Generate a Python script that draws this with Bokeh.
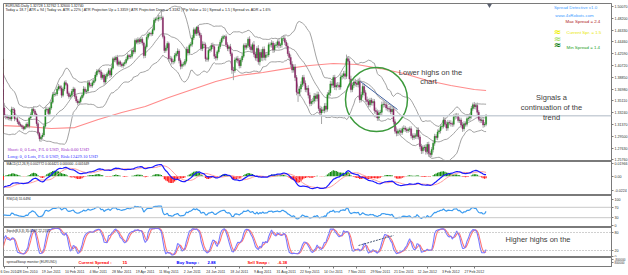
import numpy as np
import pandas as pd
from bokeh.plotting import figure
from bokeh.layouts import column
from bokeh.models import Range1d, FixedTicker, Label, Span
from bokeh.embed import file_html
from bokeh.resources import INLINE

# ---------------- DATA (EURUSD daily) ----------------
WARMUP = 30  # bars before 6 Dec 2010 (Oct 25 - Dec 3 2010), off-screen history
CLOSE = [
    1.3930, 1.3820, 1.3780, 1.3920, 1.3940,
    1.3930, 1.4030, 1.4150, 1.4170, 1.4030,
    1.3850, 1.3780, 1.3750, 1.3660, 1.3690,
    1.3600, 1.3550, 1.3530, 1.3630, 1.3670,
    1.3620, 1.3390, 1.3340, 1.3370, 1.3240,
    1.3140, 1.3000, 1.3080, 1.3240, 1.3400,
    # visible: 6 Dec 2010 ...
    1.3270, 1.3260, 1.3240, 1.3250, 1.3225,
    1.3380, 1.3370, 1.3230, 1.3230, 1.3180,
    1.3140, 1.3120, 1.3100, 1.3070, 1.3100,
    1.3140, 1.3110, 1.3240, 1.3290, 1.3380,
    1.3350, 1.3300, 1.3150, 1.3000, 1.2910,
    1.2940, 1.2970, 1.3110, 1.3370, 1.3380,
    1.3310, 1.3400, 1.3490, 1.3610, 1.3620,
    1.3620, 1.3700, 1.3740, 1.3710, 1.3600,
    1.3700, 1.3800, 1.3770, 1.3630, 1.3580,
    1.3600, 1.3660, 1.3700, 1.3580, 1.3510,
    1.3480, 1.3500, 1.3560, 1.3600, 1.3700,
    1.3660, 1.3670, 1.3800, 1.3760, 1.3750,
    1.3800, 1.3830, 1.3920, 1.3980, 1.3990,
    1.3970, 1.3880, 1.3920, 1.3810, 1.3900,
    1.3940, 1.3990, 1.3920, 1.4030, 1.4180,
    1.4160, 1.4200, 1.4090, 1.4130, 1.4090,
    1.4070, 1.4100, 1.4120, 1.4170, 1.4230,
    1.4210, 1.4220, 1.4310, 1.4290, 1.4470,
    1.4440, 1.4480, 1.4450, 1.4490, 1.4430,
    1.4230, 1.4370, 1.4520, 1.4570, 1.4580,
    1.4570, 1.4640, 1.4790, 1.4810, 1.4810,
    1.4830, 1.4830, 1.4830, 1.4530, 1.4310,
    1.4350, 1.4420, 1.4180, 1.4180, 1.4130,
    1.4140, 1.4230, 1.4260, 1.4300, 1.4150,
    1.4060, 1.4090, 1.4090, 1.4140, 1.4330,
    1.4270, 1.4390, 1.4410, 1.4510, 1.4640,
    1.4580, 1.4680, 1.4590, 1.4550, 1.4340,
    1.4410, 1.4400, 1.4180, 1.4170, 1.4310,
    1.4330, 1.4390, 1.4370, 1.4220, 1.4190,
    1.4290, 1.4370, 1.4440, 1.4500, 1.4530,
    1.4530, 1.4400, 1.4340, 1.4370, 1.4260,
    1.4000, 1.3990, 1.4160, 1.4180, 1.4150,
    1.4070, 1.4160, 1.4220, 1.4390, 1.4360,
    1.4390, 1.4490, 1.4370, 1.4320, 1.4400,
    1.4250, 1.4190, 1.4340, 1.4130, 1.4280,
    1.4200, 1.4330, 1.4200, 1.4240, 1.4240,
    1.4400, 1.4400, 1.4430, 1.4320, 1.4390,
    1.4400, 1.4450, 1.4390, 1.4400, 1.4500,
    1.4500, 1.4440, 1.4380, 1.4260, 1.4200,
    1.4090, 1.4000, 1.4050, 1.3880, 1.3650,
    1.3630, 1.3700, 1.3770, 1.3880, 1.3790,
    1.3690, 1.3710, 1.3600, 1.3470, 1.3500,
    1.3510, 1.3590, 1.3550, 1.3610, 1.3390,
    1.3320, 1.3370, 1.3360, 1.3430, 1.3380,
    1.3610, 1.3640, 1.3780, 1.3760, 1.3880,
    1.3730, 1.3760, 1.3760, 1.3730, 1.3890,
    1.3910, 1.3940, 1.3900, 1.4180, 1.4140,
    1.3860, 1.3690, 1.3760, 1.3810, 1.3790,
    1.3770, 1.3820, 1.3530, 1.3610, 1.3740,
    1.3640, 1.3530, 1.3500, 1.3450, 1.3520,
    1.3480, 1.3500, 1.3360, 1.3340, 1.3240,
    1.3320, 1.3330, 1.3450, 1.3460, 1.3450,
    1.3400, 1.3390, 1.3380, 1.3340, 1.3380,
    1.3180, 1.3030, 1.3000, 1.3030, 1.3040,
    1.3010, 1.3070, 1.3080, 1.3060, 1.3040,
    1.3060, 1.3070, 1.2960, 1.2930, 1.2960,
    1.2950, 1.3050, 1.2940, 1.2790, 1.2720,
    1.2770, 1.2780, 1.2710, 1.2820, 1.2680,
    1.2660, 1.2740, 1.2840, 1.2950, 1.2930,
    1.3020, 1.3040, 1.3100, 1.3110, 1.3210,
    1.3140, 1.3080, 1.3170, 1.3160, 1.3150,
    1.3140, 1.3260, 1.3270, 1.3280, 1.3200,
    1.3210, 1.3130, 1.3070, 1.3150, 1.3140,
    1.3230, 1.3240, 1.3270, 1.3390, 1.3450,
    1.3420, 1.3440, 1.3330, 1.3220, 1.3200,
    1.3210, 1.3130, 1.3140, 1.3274,
]
UP_WICK_PIPS = [
    30, 45, 25, 40, 20, 35, 30, 50, 25, 45, 20, 35, 30, 40, 25,
    30, 25, 45, 20, 35, 25, 40, 30, 20, 35, 45, 30, 55, 25, 40,
    80, 30, 35, 25, 30, 40, 35, 30, 25, 30, 25, 30, 20, 25, 15,
    30, 35, 25, 40, 20, 45, 30, 25, 30, 20, 20, 35, 40, 45, 40,
    30, 25, 45, 40, 35, 30, 35, 40, 25, 45, 35, 30, 40, 25, 30,
    30, 40, 35, 25, 30, 30, 35, 25, 40, 45, 35, 25, 40, 30, 35,
    40, 30, 45, 35, 25, 30, 35, 40, 25, 35, 30, 40, 35, 45, 30,
    35, 30, 40, 35, 25, 30, 25, 35, 40, 35, 25, 35, 30, 40, 30,
    30, 40, 25, 35, 30, 20, 35, 40, 30, 25, 30, 35, 40, 25, 30,
    50, 40, 110, 30, 35, 40, 35, 30, 45, 35, 30, 40, 35, 45, 30,
    35, 30, 40, 35, 40, 40, 30, 35, 45, 35, 30, 15, 35, 40, 35,
    45, 40, 35, 30, 40, 35, 40, 45, 30, 35, 30, 35, 40, 35, 30,
    25, 35, 40, 30, 45, 30, 50, 40, 35, 45, 40, 35, 45, 30, 40,
    35, 30, 45, 40, 35, 60, 40, 35, 55, 45, 50, 40, 45, 35, 40,
    35, 40, 45, 30, 35, 40, 35, 45, 30, 35, 50, 40, 35, 45, 40,
    45, 50, 40, 45, 40, 40, 45, 50, 40, 45, 45, 40, 50, 45, 40,
    50, 45, 40, 50, 45, 45, 50, 40, 45, 50, 40, 45, 50, 45, 40,
    45, 40, 50, 45, 40, 40, 45, 50, 65, 40, 45, 50, 40, 45, 50,
    40, 45, 60, 45, 40, 45, 40, 50, 45, 40, 40, 45, 40, 45, 35,
    45, 40, 50, 45, 40, 40, 45, 40, 50, 45, 45, 40, 45, 40, 35,
    40, 35, 45, 35, 30, 30, 35, 40, 35, 40, 35, 45, 40, 35, 40,
    40, 35, 45, 40, 45, 35, 40, 45, 40, 35, 40, 35, 45, 40, 45,
    40, 45, 40, 35, 45, 35, 40, 45, 40, 35, 40, 35, 45, 40, 35,
    35, 40, 45, 40, 35, 45, 40, 45, 35, 40, 35, 40, 35, 30,
]
DN_WICK_PIPS = [
    25, 30, 40, 20, 35, 30, 45, 20, 35, 50, 40, 25, 35, 30, 20,
    35, 40, 25, 30, 45, 30, 20, 45, 25, 40, 35, 55, 25, 40, 30,
    30, 40, 25, 35, 30, 35, 30, 40, 25, 35, 30, 25, 35, 30, 20,
    25, 30, 35, 30, 25, 30, 35, 40, 35, 40, 50, 35, 30, 35, 30,
    40, 35, 30, 25, 35, 35, 30, 25, 35, 40, 30, 35, 25, 40, 35,
    35, 30, 40, 35, 30, 40, 35, 30, 25, 35, 35, 40, 30, 35, 30,
    30, 35, 25, 30, 35, 40, 35, 30, 45, 35, 40, 35, 45, 30, 25,
    35, 40, 30, 35, 40, 30, 35, 40, 30, 25, 35, 30, 35, 40, 30,
    30, 35, 40, 35, 40, 45, 40, 30, 35, 30, 35, 30, 25, 40, 35,
    40, 45, 35, 30, 40, 35, 40, 45, 35, 40, 40, 35, 30, 40, 45,
    50, 40, 35, 30, 35, 40, 35, 30, 40, 35, 35, 40, 45, 40, 35,
    40, 35, 45, 40, 35, 35, 40, 35, 45, 40, 35, 30, 35, 30, 35,
    40, 35, 40, 45, 40, 60, 150, 35, 40, 45, 45, 40, 35, 30, 40,
    35, 40, 45, 35, 40, 45, 40, 50, 45, 60, 55, 60, 45, 50, 40,
    35, 40, 45, 50, 40, 40, 45, 50, 40, 45, 40, 45, 50, 40, 45,
    50, 45, 40, 55, 50, 135, 45, 50, 40, 45, 40, 45, 50, 45, 40,
    45, 40, 50, 45, 40, 50, 175, 40, 45, 50, 40, 45, 50, 40, 45,
    45, 50, 40, 45, 40, 40, 45, 50, 40, 45, 50, 45, 40, 45, 50,
    40, 45, 50, 40, 45, 45, 40, 50, 45, 40, 40, 45, 50, 40, 45,
    45, 40, 50, 45, 40, 40, 45, 50, 40, 45, 45, 40, 50, 45, 40,
    40, 35, 45, 40, 35, 35, 40, 45, 40, 35, 40, 45, 40, 45, 50,
    45, 40, 50, 45, 55, 50, 40, 45, 40, 35, 40, 35, 45, 40, 35,
    40, 45, 40, 35, 45, 40, 35, 45, 40, 35, 40, 45, 50, 40, 35,
    35, 40, 45, 40, 35, 40, 45, 40, 35, 40, 40, 45, 35, 30,
]
# long moving average (red line), sampled at bar indices
MA_BARS = [0, 16, 32, 48, 64, 80, 96, 112, 128, 144, 160, 176, 192, 208,
           224, 240, 256, 272, 288, 304, 320, 328]
MA_VALUES = [1.3121, 1.3105, 1.3074, 1.3089, 1.3216, 1.3327, 1.3422, 1.3565,
             1.3692, 1.3818, 1.3914, 1.3961, 1.4024, 1.4072, 1.4104, 1.4088,
             1.4024, 1.3945, 1.3834, 1.3755, 1.3692, 1.3676]
TICK_BARS = [0, 16, 32, 48, 64, 80, 96, 112, 128, 144, 160, 176, 192, 208,
             224, 240, 256, 272, 288, 304, 320]
TICK_LABELS = ["6 Dec 2010", "28 Dec 2010", "19 Jan 2011", "10 Feb 2011", "4 Mar 2011",
               "28 Mar 2011", "19 Apr 2011", "11 May 2011", "2 Jun 2011", "24 Jun 2011",
               "18 Jul 2011", "9 Aug 2011", "31 Aug 2011", "22 Sep 2011", "14 Oct 2011",
               "7 Nov 2011", "29 Nov 2011", "21 Dec 2011", "12 Jan 2012", "3 Feb 2012",
               "27 Feb 2012"]
PRICE_TICKS = [1.50070, 1.48200, 1.46330, 1.44460, 1.42590, 1.40720, 1.38850,
               1.36980, 1.35110, 1.33240, 1.31370, 1.29500, 1.27630, 1.25760]
LAST_PRICE = 1.32740
# drawn objects
TREND_BARS = [242.5, 267.7]
TREND_PRICES = [1.3818, 1.3375]
CIRCLE = dict(bar=253.4, price=1.3533, w_bars=42.2, h_price=0.1014)
STOCH_LINE_BARS = [241.2, 265.0]
STOCH_LINE_VALUES = [36.7, 70.0]

# ---------------- indicators ----------------
n = min(len(CLOSE), len(UP_WICK_PIPS), len(DN_WICK_PIPS))
c = np.array(CLOSE[:n])
o = np.concatenate([[c[0]], c[:-1]])
hi = np.maximum(o, c) + np.array(UP_WICK_PIPS[:n]) / 10000.0
lo = np.minimum(o, c) - np.array(DN_WICK_PIPS[:n]) / 10000.0
bars = np.arange(n) - WARMUP

s = pd.Series(c)
bb_mid = s.rolling(20).mean()
bb_sd = s.rolling(20).std(ddof=0)
bb_up = bb_mid + 2 * bb_sd
bb_dn = bb_mid - 2 * bb_sd

ema12 = s.ewm(span=12, adjust=False).mean()
ema26 = s.ewm(span=26, adjust=False).mean()
macd = ema12 - ema26
sig = macd.rolling(9).mean()
hist = (macd - sig).fillna(0)

d = s.diff().fillna(0)
ag = d.clip(lower=0).ewm(alpha=1 / 14, adjust=False).mean()
al = (-d.clip(upper=0)).ewm(alpha=1 / 14, adjust=False).mean()
rsi = 100 - 100 / (1 + ag / al.replace(0, np.nan))

H = pd.Series(hi); L = pd.Series(lo)
ll8 = L.rolling(8).min(); hh8 = H.rolling(8).max()
stk = (s - ll8).rolling(3).sum() / (hh8 - ll8).rolling(3).sum() * 100
std_ = stk.rolling(3).mean()

# ---------------- layout helpers ----------------
FW = 608
XR0 = -0.5
BPX = 1.469
XR1 = XR0 + FW / BPX
xr = Range1d(XR0, XR1)


def px2x(px):
    return XR0 + (px - 3) / BPX


def make_fig(pane, top_border=0, bottom_axis=False):
    top, h, y0, y1 = pane
    p = figure(frame_width=FW, frame_height=h, x_range=xr, y_range=Range1d(y0, y1),
               output_backend="svg", toolbar_location=None,
               x_axis_location="below" if bottom_axis else None,
               y_axis_location="right",
               min_border_left=3, min_border_right=17, min_border_top=top_border,
               min_border_bottom=8 if bottom_axis else 0,
               background_fill_color="white", border_fill_color="white",
               outline_line_color="#7a7a7a", outline_line_width=1)
    p.grid.visible = False
    ax = p.yaxis[0]
    ax.axis_line_color = "#7a7a7a"
    ax.major_tick_line_color = "#7a7a7a"
    ax.major_tick_out = 2
    ax.major_tick_in = 0
    ax.minor_tick_line_color = None
    ax.major_label_text_font_size = "3.6px"
    ax.major_label_text_font = "Liberation Sans"
    ax.major_label_text_color = "#303030"
    ax.major_label_standoff = 1
    return p


def txt(p, pane, px, py, s_, size, color, font="Liberation Sans", align="left", style="normal"):
    top, h, y0, y1 = pane
    y = y1 - (py - top) * (y1 - y0) / h
    p.add_layout(Label(x=px2x(px), y=y, text=s_, text_font=font, text_font_size=size,
                       text_color=color, text_align=align, text_baseline="middle",
                       text_font_style=style))


MAIN = (3, 158, 1.2551, 1.50545)
MACDP = (161, 34, -0.0302, 0.0228)
RSIP = (195, 32, -7.7, 115.4)
STOP = (227, 30, -3.3, 96.7)
SPRP = (257, 9, -1.0, 1.0)
NOTE = "#3c3c3c"

# ---------------- main pane ----------------
p1 = make_fig(MAIN, top_border=3)
p1.yaxis.ticker = FixedTicker(ticks=PRICE_TICKS)
p1.yaxis.major_label_overrides = {t: "%.5f" % t for t in PRICE_TICKS}

p1.add_layout(Span(location=LAST_PRICE, dimension="width", line_color="#c9d0d8", line_width=1.5))
p1.line(MA_BARS, MA_VALUES, line_color="#ff8c8c", line_width=1.2)
for band in (bb_up, bb_mid, bb_dn):
    p1.line(bars, band.values, line_color="#8a8a8a", line_width=0.8)

p1.segment(x0=bars, y0=lo, x1=bars, y1=hi, line_color="#a6a6a6", line_width=1)
bull = c >= o
p1.vbar(x=bars[bull], top=c[bull], bottom=o[bull], width=0.75,
        fill_color="#1f8a1f", line_color="#1f8a1f", line_width=0.4)
p1.vbar(x=bars[~bull], top=o[~bull], bottom=c[~bull], width=0.75,
        fill_color="#8a2464", line_color="#8a2464", line_width=0.4)

p1.ellipse(x=[CIRCLE["bar"]], y=[CIRCLE["price"]], width=[CIRCLE["w_bars"]],
           height=[CIRCLE["h_price"]], fill_color=None, line_color="#3c9a3c", line_width=1.5)
p1.line(TREND_BARS, TREND_PRICES, line_color="#3f5f9f", line_width=1)
p1.scatter([px2x(489)], [MAIN[3] - 0.0025], marker="inverted_triangle", size=5,
           fill_color="#5a6070", line_color=None)

# price box on the axis
p1.add_layout(Label(x=XR1, y=LAST_PRICE, x_offset=1, text="%.5f" % LAST_PRICE,
                    text_font="Liberation Sans", text_font_size="3.6px", text_color="white",
                    background_fill_color="black", text_baseline="middle", text_align="left"))

txt(p1, MAIN, 5, 5.3, "EURUSD,Daily  1.32728 1.32762 1.32600 1.32740", "3.5px", "#202020")
txt(p1, MAIN, 5, 9.7, "Today = 18.7  |  ATR = 94  |  Today vs. ATR = 22%  |  ATR Projection Up = 1.3359  |  "
    "ATR Projection Down = 1.3182  |  Pip Value = 10  |  Spread = 1.5  |  Spread vs. ADR = 1.6%",
    "3.6px", "#202020")
txt(p1, MAIN, 575, 7, "Spread Detective v1.0", "4.4px", "#3fa0ff", align="center")
txt(p1, MAIN, 574, 14.5, "www.4xRobots.com", "4.4px", "#3fa0ff", align="center")
txt(p1, MAIN, 565, 20.5, "Max Spread = 2.4", "4.4px", "#b02020")
txt(p1, MAIN, 566, 32, "Current Spr. = 1.5", "4.4px", "#e8e800")
txt(p1, MAIN, 566, 47, "Min Spread = 1.4", "4.4px", "#22a022")
txt(p1, MAIN, 557, 31, "\u2248", "9px", "#f0f000", font="DejaVu Sans", align="center", style="bold")
txt(p1, MAIN, 557, 38, "\u2248", "9px", "#a8e070", font="DejaVu Sans", align="center", style="bold")
txt(p1, MAIN, 557, 44, "\u2248", "9px", "#0a7a0a", font="DejaVu Sans", align="center", style="bold")

txt(p1, MAIN, 430, 72, "Lower highs on the", "7.5px", NOTE, align="center")
txt(p1, MAIN, 428, 81, "chart", "7.5px", NOTE, align="center")
txt(p1, MAIN, 551, 97, "Signals a", "7.5px", NOTE, align="center")
txt(p1, MAIN, 551, 107, "continuation of the", "7.5px", NOTE, align="center")
txt(p1, MAIN, 551, 117, "trend", "7.5px", NOTE, align="center")

txt(p1, MAIN, 7, 149, "Short: 0, 0 Lots, P/L 0 USD, Risk:0.00 USD", "4.6px", "#a035c8",
    font="Liberation Serif")
txt(p1, MAIN, 7, 156, "Long: 0, 0 Lots, P/L 0 USD, Risk:12429.10 USD", "4.6px", "#3a3aff",
    font="Liberation Serif")

# ---------------- MACD pane ----------------
p2 = make_fig(MACDP)
macd_ticks = [0.01966, 0.0, -0.0224]
p2.yaxis.ticker = FixedTicker(ticks=macd_ticks)
p2.yaxis.major_label_overrides = {0.01966: "0.01966", 0.0: "0.00", -0.0224: "-0.0224"}
hv = hist.values
pos = hv >= 0
p2.vbar(x=bars[pos], top=hv[pos], bottom=0, width=0.85, fill_color="#108a10", line_color=None)
p2.vbar(x=bars[~pos], top=0, bottom=hv[~pos], width=0.85, fill_color="#ff1a1a", line_color=None)
p2.line(bars, sig.values, line_color="#ff9a9a", line_width=1)
p2.line(bars, macd.values, line_color="#1a1aff", line_width=1.2)
txt(p2, MACDP, 6, 163.5, "MACD(12,26,9) 0.002772 0.004421 0.000000 -0.001649", "3.3px", "#202020")

# ---------------- RSI pane ----------------
p3 = make_fig(RSIP)
p3.yaxis.ticker = FixedTicker(ticks=[100, 70, 30, 0])
for lv in (70, 30):
    p3.add_layout(Span(location=lv, dimension="width", line_color="#c8c8c8", line_width=1))
p3.line(bars, rsi.values, line_color="#3c9cf0", line_width=1.2)
txt(p3, RSIP, 6, 198, "RSI(14) 55.6494", "3.3px", "#202020")

# ---------------- Stochastic pane ----------------
p4 = make_fig(STOP)
p4.yaxis.ticker = FixedTicker(ticks=[100, 80, 20, 0])
for lv in (80, 20):
    p4.add_layout(Span(location=lv, dimension="width", line_color="#a0a0a0", line_width=1,
                       line_dash="1 2"))
p4.line(bars, std_.values, line_color="#ff7474", line_width=1.1)
p4.line(bars, stk.values, line_color="#7a7aff", line_width=1.1)
p4.line(STOCH_LINE_BARS, STOCH_LINE_VALUES, line_color="#4a5a78", line_width=1, line_dash="2 1")
txt(p4, STOP, 6, 230.5, "Stoch(8,3,3) 35.0287 22.2315", "3.3px", "#202020")
txt(p4, STOP, 505, 239, "Higher highs on the", "7.5px", NOTE)

# ---------------- spread / swap monitor pane + date axis ----------------
p5 = make_fig(SPRP, bottom_axis=True)
p5.yaxis.ticker = FixedTicker(ticks=[0.55, -0.1])
p5.yaxis.major_label_overrides = {0.55: "-800000", -0.1: "800000"}
p5.yaxis.major_label_text_font_size = "3px"
xa = p5.xaxis[0]
xa.ticker = FixedTicker(ticks=TICK_BARS)
xa.major_label_overrides = {b: lab for b, lab in zip(TICK_BARS, TICK_LABELS)}
xa.major_label_text_font_size = "3.5px"
xa.major_label_text_font = "Liberation Sans"
xa.major_label_text_color = "#303030"
xa.major_label_text_align = "left"
xa.major_label_standoff = 1
xa.major_tick_out = 2
xa.major_tick_in = 0
xa.minor_tick_line_color = None
xa.axis_line_color = "#7a7a7a"
xa.major_tick_line_color = "#7a7a7a"

txt(p5, SPRP, 6, 261.5, "spreadSwap monitor (EURUSD)", "3.5px", "#303030")
txt(p5, SPRP, 78, 261.5, "Current Spread :", "4.2px", "#ff0000", style="bold")
txt(p5, SPRP, 122, 261.5, "15", "4.2px", "#ff0000", style="bold")
txt(p5, SPRP, 176, 261.5, "Buy Swap :", "4.2px", "#0000ff", style="bold")
txt(p5, SPRP, 207, 261.5, "2.88", "4.2px", "#0000ff", style="bold")
txt(p5, SPRP, 247, 261.5, "Sell Swap :", "4.2px", "#ff0000", style="bold")
txt(p5, SPRP, 277, 261.5, "-6.38", "4.2px", "#ff0000", style="bold")

layout = column(p1, p2, p3, p4, p5, spacing=0)

html = file_html(layout, INLINE, title="EURUSD Daily")
html = html.replace("<head>", "<head><style>html,body{margin:0;padding:0;overflow:hidden;background:#fff}</style>", 1)
open("out.html", "w").write(html)
